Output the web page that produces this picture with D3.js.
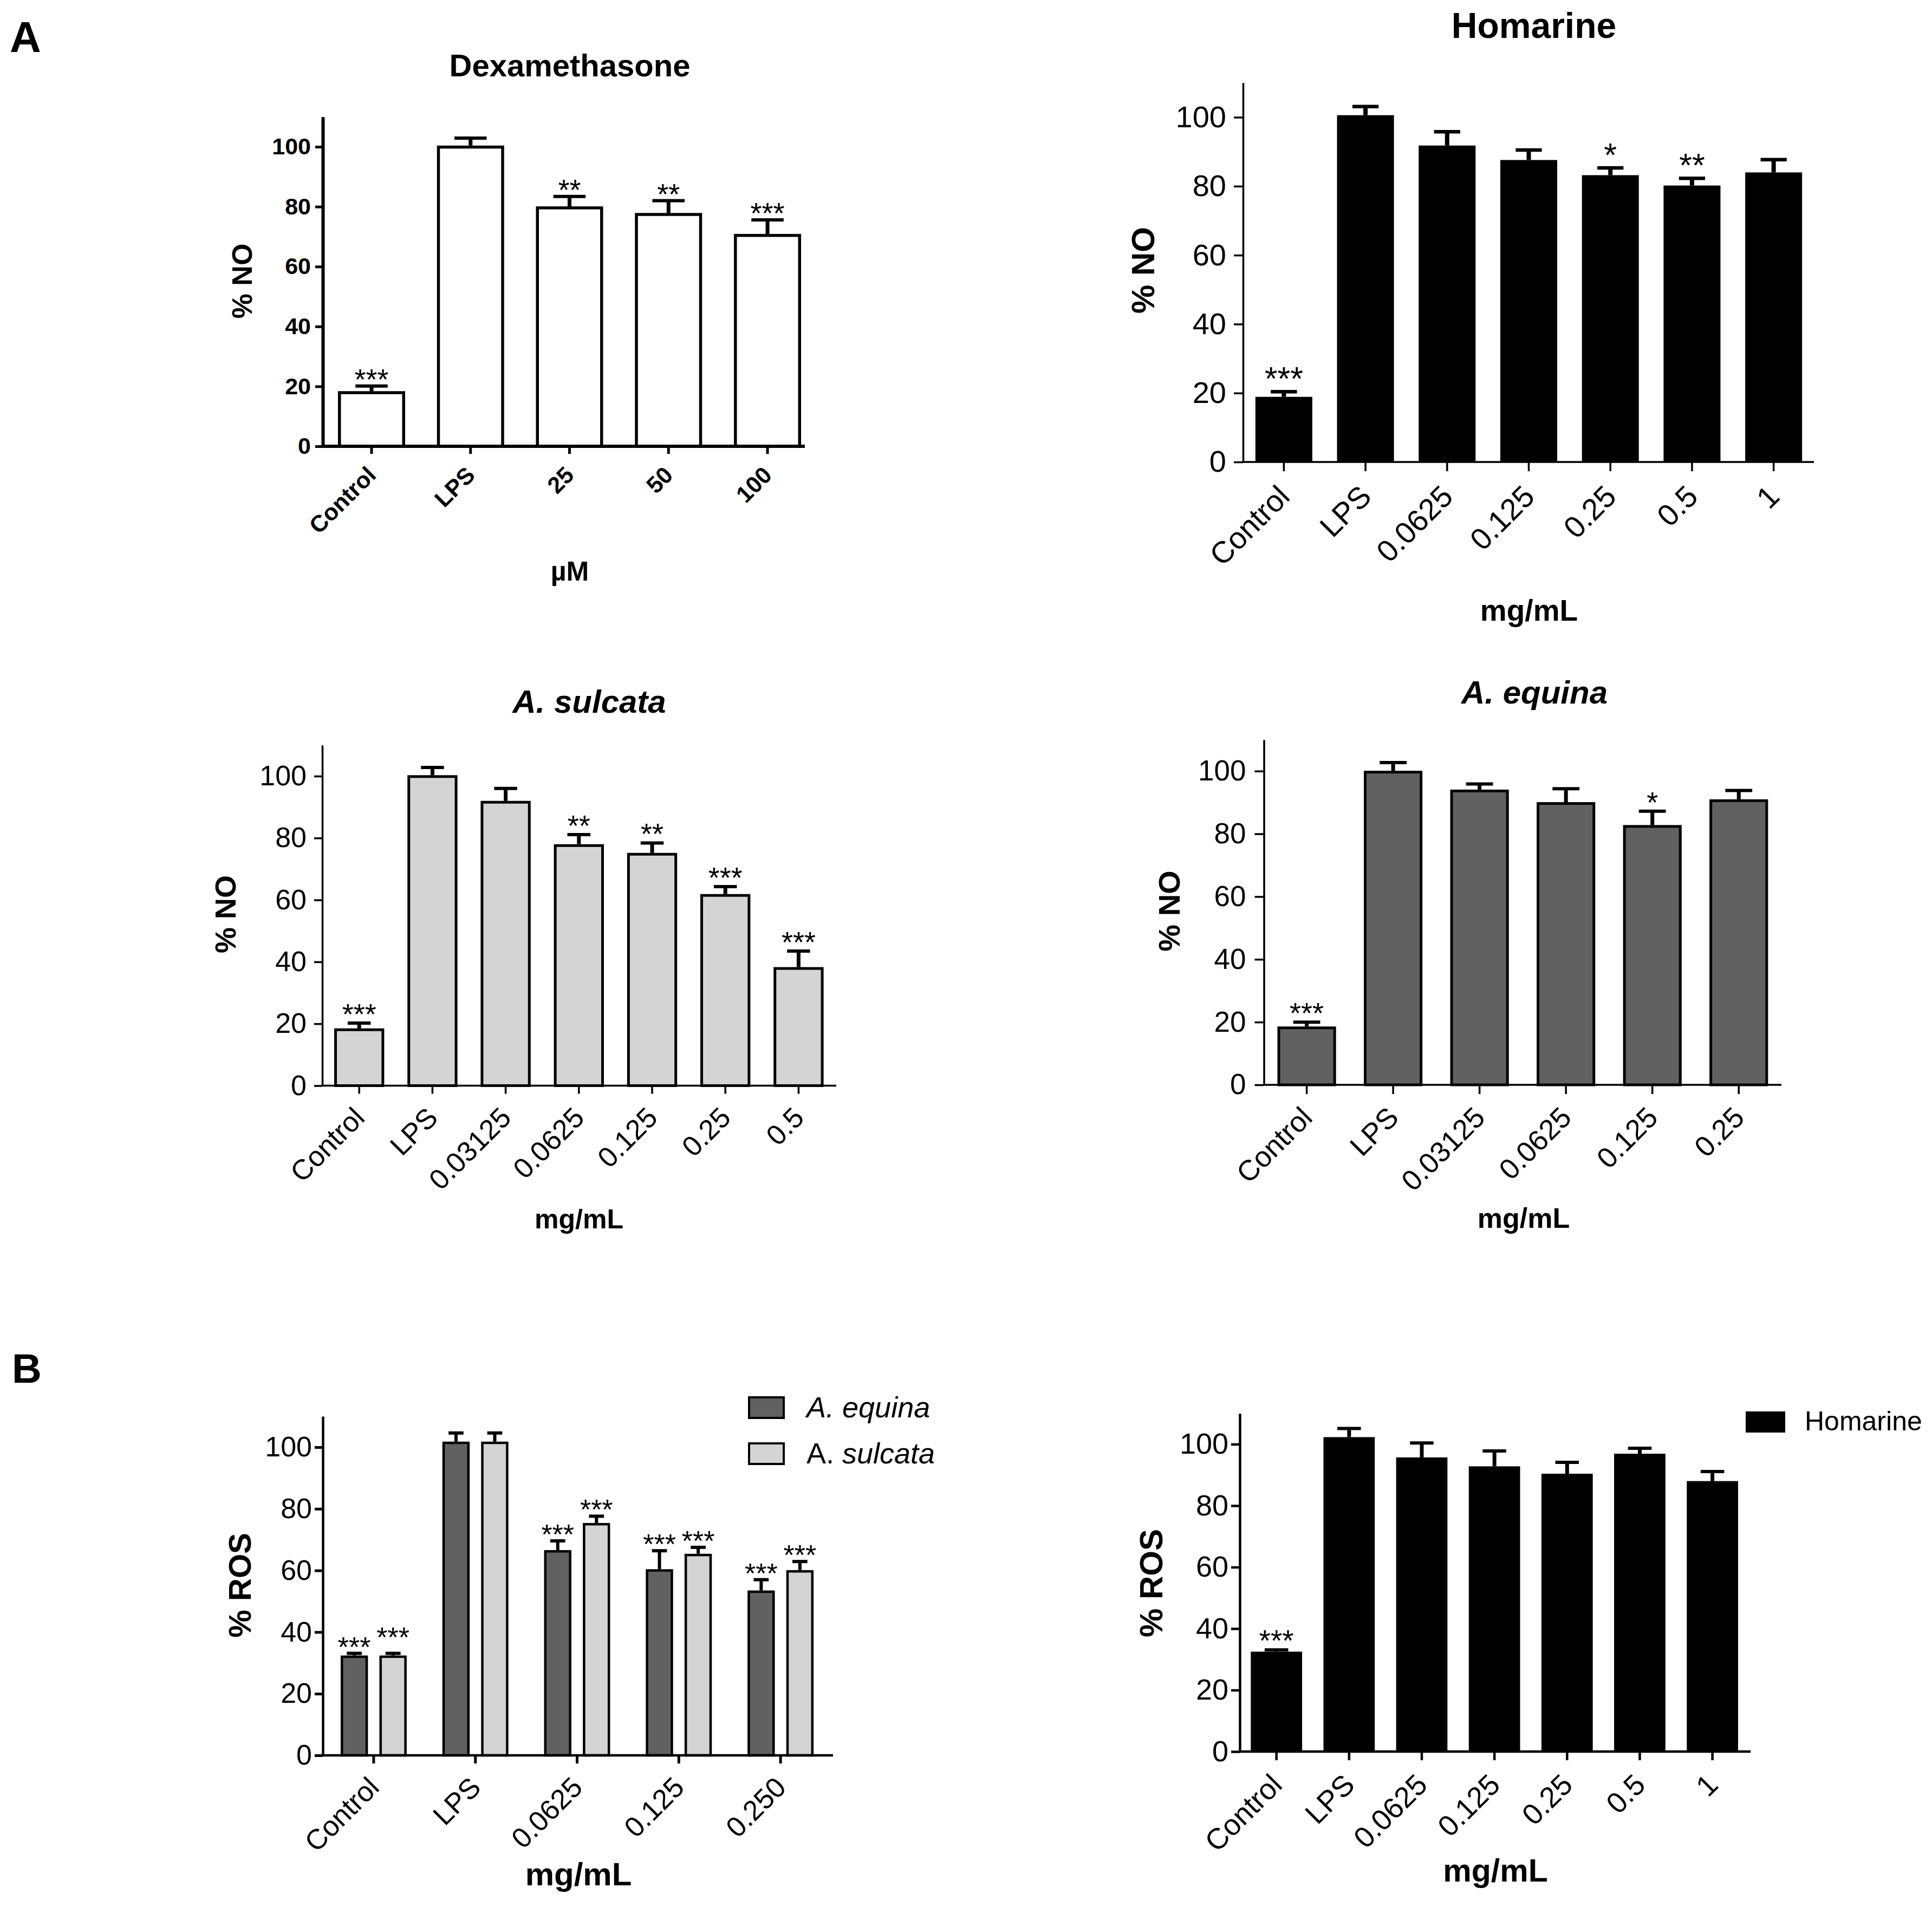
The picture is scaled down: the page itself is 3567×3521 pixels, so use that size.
<!DOCTYPE html>
<html>
<head>
<meta charset="utf-8">
<script src="https://cdn.jsdelivr.net/npm/d3@7"></script>
<style>
  body { margin: 0; background: #fff; }
</style>
</head>
<body>
<svg id="fig"></svg>
<script>
const FONT = '"Liberation Sans", Arial, Helvetica, sans-serif';

// ---- data ----
const yTicks = [0, 20, 40, 60, 80, 100];

const dexCats  = ['Control', 'LPS', '25', '50', '100'];
const dexNO    = [18.4, 100.4, 80.1, 77.9, 70.9];
const dexErr   = [1.7, 2.5, 3.3, 4.1, 4.7];
const dexStars = ['***', '', '**', '**', '***'];

const homNOCats  = ['Control', 'LPS', '0.0625', '0.125', '0.25', '0.5', '1'];
const homNO      = [18.9, 100.6, 91.8, 87.6, 83.2, 80.2, 84.0];
const homNOErr   = [1.5, 2.5, 4.0, 2.9, 2.1, 2.1, 3.7];
const homNOStars = ['***', '', '', '', '*', '**', ''];

const sulNOCats  = ['Control', 'LPS', '0.03125', '0.0625', '0.125', '0.25', '0.5'];
const sulNO      = [18.5, 100.3, 92.0, 78.0, 75.2, 61.9, 38.3];
const sulNOErr   = [1.7, 2.5, 4.0, 3.1, 3.2, 2.4, 5.2];
const sulNOStars = ['***', '', '', '**', '**', '***', '***'];

const eqNOCats  = ['Control', 'LPS', '0.03125', '0.0625', '0.125', '0.25'];
const eqNO      = [18.6, 100.1, 94.1, 90.1, 82.8, 91.0];
const eqNOErr   = [1.4, 2.6, 1.8, 4.3, 4.4, 2.8];
const eqNOStars = ['***', '', '', '', '*', ''];

const rosCats     = ['Control', 'LPS', '0.0625', '0.125', '0.250'];
const rosSeries   = ['A. equina', 'A. sulcata'];
const rosEq       = [32.4, 101.8, 66.6, 60.4, 53.5];
const rosEqErr    = [0.7, 2.8, 3.0, 6.0, 3.5];
const rosEqStars  = ['***', '', '***', '***', '***'];
const rosSul      = [32.4, 101.8, 75.4, 65.4, 60.1];
const rosSulErr   = [0.7, 2.8, 2.2, 2.1, 2.8];
const rosSulStars = ['***', '', '***', '***', '***'];

const homROSCats  = ['Control', 'LPS', '0.0625', '0.125', '0.25', '0.5', '1'];
const homROS      = [32.5, 102.3, 95.7, 92.8, 90.4, 96.9, 88.0];
const homROSErr   = [0.6, 2.8, 4.7, 5.0, 3.7, 1.8, 3.1];
const homROSStars = ['***', '', '', '', '', '', ''];

const svg = d3.select('#fig').attr('width', 3567).attr('height', 3521)
    .style('font-family', FONT);

function txt(g, str, x, y, size, opts) {
    opts = opts || {};
    return g.append('text')
        .attr('x', x).attr('y', y)
        .attr('font-size', size)
        .attr('font-weight', opts.weight || 'normal')
        .attr('font-style', opts.style || 'normal')
        .attr('text-anchor', opts.anchor || 'middle')
        .attr('fill', '#000')
        .text(str);
}

function drawAxes(g, c, x, y) {
    const ya = g.append('g').attr('transform', `translate(${c.axisX},0)`)
        .call(d3.axisLeft(y).tickValues(yTicks).tickSize(c.tickLen)
            .tickSizeOuter(0).tickPadding(c.tickPad));
    ya.select('.domain').attr('stroke-width', c.axisW);
    ya.selectAll('.tick line').attr('stroke-width', c.tickW);
    ya.selectAll('.tick text')
        .attr('font-size', c.tickFont)
        .attr('font-weight', c.tickWeight || 'normal')
        .attr('font-family', FONT);

    g.append('line')
        .attr('x1', c.axisX).attr('x2', c.axisEnd)
        .attr('y1', y(0)).attr('y2', y(0))
        .attr('stroke', '#000').attr('stroke-width', c.axisW);

    const f = c.tickFont;
    const xa = g.append('g').attr('transform', `translate(0,${y(0)})`)
        .call(d3.axisBottom(x).tickSize(c.tickLen).tickSizeOuter(0));
    xa.select('.domain').remove();
    xa.selectAll('.tick line').attr('stroke-width', c.tickW);
    xa.selectAll('.tick text')
        .attr('font-size', f)
        .attr('font-weight', c.tickWeight || 'normal')
        .attr('font-family', FONT)
        .attr('x', null).attr('y', null).attr('dy', null)
        .attr('text-anchor', 'end')
        .attr('transform', `translate(${0.25 * f},${(c.labDy || 1.2) * f}) rotate(-45)`);

    // titles and axis labels
    if (c.title) {
        txt(g, c.title, c.titleX, c.titleY, c.titleSize,
            {weight: 'bold', style: c.titleStyle});
    }
    txt(g, c.yLabel, 0, 0, c.yLabelSize, {weight: 'bold'})
        .attr('dominant-baseline', 'central')
        .attr('transform', `translate(${c.yLabelX},${c.yLabelY}) rotate(-90)`);
    txt(g, c.xLabel, c.xLabelX, c.xLabelY, c.xLabelSize, {weight: 'bold'});
}

function drawBars(g, c, x, y, cats, mean, err, stars, fill, bw, xOff, starLift) {
    const data = cats.map((d, i) => ({cat: d, m: mean[i], e: err[i], s: stars[i]}));
    const cx = d => x(d.cat) + xOff + bw / 2;
    const sw = c.barW;

    g.append('g').selectAll('rect').data(data).join('rect')
        .attr('x', d => x(d.cat) + xOff + sw / 2)
        .attr('width', bw - sw)
        .attr('y', d => y(d.m) + sw / 2)
        .attr('height', d => y(0) - y(d.m) - sw / 2)
        .attr('fill', fill)
        .attr('stroke', sw > 0 ? '#000' : 'none')
        .attr('stroke-width', sw);

    const eg = g.append('g').attr('stroke', '#000');
    eg.selectAll('line.v').data(data).join('line').attr('class', 'v')
        .attr('x1', cx).attr('x2', cx)
        .attr('y1', d => y(d.m)).attr('y2', d => y(d.m + d.e))
        .attr('stroke-width', c.errW);
    eg.selectAll('line.cap').data(data).join('line').attr('class', 'cap')
        .attr('x1', d => cx(d) - bw * c.capFrac / 2)
        .attr('x2', d => cx(d) + bw * c.capFrac / 2)
        .attr('y1', d => y(d.m + d.e)).attr('y2', d => y(d.m + d.e))
        .attr('stroke-width', c.capH);

    g.append('g').selectAll('text').data(data.filter(d => d.s)).join('text')
        .attr('x', cx)
        .attr('y', d => y(d.m + d.e) + c.starDy - (starLift ? starLift(d) : 0))
        .attr('text-anchor', 'middle')
        .attr('font-size', c.starFont)
        .attr('fill', '#000')
        .text(d => d.s);
}

function makeScales(c, cats) {
    const x = d3.scaleBand().domain(cats).range(c.band)
        .paddingInner(c.padIn).paddingOuter(c.padIn / 2);
    const unit = (c.y0 - c.y100) / 100;
    const y = d3.scaleLinear().domain([0, 110]).range([c.y0, c.y0 - 110 * unit]);
    return {x, y};
}

function simplePanel(c, cats, mean, err, stars) {
    const g = svg.append('g');
    const {x, y} = makeScales(c, cats);
    drawBars(g, c, x, y, cats, mean, err, stars, c.fill, x.bandwidth(), 0);
    drawAxes(g, c, x, y);
    return {g, x, y};
}

// ---- panel A ----
txt(svg, 'A', 18, 96, 80, {weight: 'bold', anchor: 'start'});

simplePanel({
    axisX: 596, axisEnd: 1486, y0: 824, y100: 271, band: [594.6, 1508.4], padIn: 0.3215,
    fill: '#fff', barW: 5.5, axisW: 6, tickW: 5, tickLen: 14, tickPad: 8,
    tickFont: 43, tickWeight: 'bold', labDy: 1.3,
    title: 'Dexamethasone', titleX: 1052, titleY: 141, titleSize: 58,
    yLabel: '% NO', yLabelX: 447, yLabelY: 519, yLabelSize: 52,
    xLabel: 'µM', xLabelX: 1052, xLabelY: 1072, xLabelSize: 50,
    starFont: 54, starDy: 6, capFrac: 0.48, errW: 7, capH: 6
}, dexCats, dexNO, dexErr, dexStars);

simplePanel({
    axisX: 2295, axisEnd: 3349, y0: 853, y100: 216.5, band: [2295, 3350], padIn: 0.303,
    fill: '#000', barW: 0, axisW: 3.5, tickW: 3.5, tickLen: 17, tickPad: 14,
    tickFont: 56,
    title: 'Homarine', titleX: 2832, titleY: 70, titleSize: 66,
    yLabel: '% NO', yLabelX: 2110, yLabelY: 499, yLabelSize: 60,
    xLabel: 'mg/mL', xLabelX: 2823, xLabelY: 1146, xLabelSize: 55,
    starFont: 61, starDy: -3, capFrac: 0.46, errW: 8, capH: 6.5
}, homNOCats, homNO, homNOErr, homNOStars);

simplePanel({
    axisX: 595, axisEnd: 1544, y0: 2004.5, y100: 1433, band: [595.6, 1542], padIn: 0.317,
    fill: '#d4d4d4', barW: 5, axisW: 3.5, tickW: 3.5, tickLen: 15, tickPad: 14,
    tickFont: 52,
    title: 'A. sulcata', titleStyle: 'italic', titleX: 1088, titleY: 1316, titleSize: 60,
    yLabel: '% NO', yLabelX: 416, yLabelY: 1688, yLabelSize: 54,
    xLabel: 'mg/mL', xLabelX: 1069, xLabelY: 2268, xLabelSize: 50,
    starFont: 54, starDy: 2, capFrac: 0.46, errW: 7, capH: 6
}, sulNOCats, sulNO, sulNOErr, sulNOStars);

simplePanel({
    axisX: 2333.5, axisEnd: 3289, y0: 2003, y100: 1423.7, band: [2332.8, 3290], padIn: 0.322,
    fill: '#616161', barW: 5, axisW: 3.5, tickW: 3.5, tickLen: 17, tickPad: 16,
    tickFont: 53,
    title: 'A. equina', titleStyle: 'italic', titleX: 2833, titleY: 1299, titleSize: 60,
    yLabel: '% NO', yLabelX: 2158, yLabelY: 1682, yLabelSize: 56,
    xLabel: 'mg/mL', xLabelX: 2813, xLabelY: 2267, xLabelSize: 52,
    starFont: 54, starDy: 2, capFrac: 0.46, errW: 7, capH: 6
}, eqNOCats, eqNO, eqNOErr, eqNOStars);

// ---- panel B ----
txt(svg, 'B', 22, 2553, 76, {weight: 'bold', anchor: 'start'});

// grouped ROS chart
(function () {
    const c = {
        axisX: 596, axisEnd: 1538, y0: 3241, y100: 2672, band: [596, 1535], padIn: 0.351,
        barW: 4.5, axisW: 4.5, tickW: 5, tickLen: 15, tickPad: 5, tickFont: 52,
        yLabel: '% ROS', yLabelX: 442, yLabelY: 2927, yLabelSize: 58,
        xLabel: 'mg/mL', xLabelX: 1068, xLabelY: 3481, xLabelSize: 60,
        starFont: 52, starDy: 6, capFrac: 0.55, errW: 6, capH: 6
    };
    const g = svg.append('g');
    const {x, y} = makeScales(c, rosCats);
    const xi = d3.scaleBand().domain(rosSeries).range([0, x.bandwidth()]).paddingInner(0.296);
    const fills = ['#616161', '#d4d4d4'];
    // where both caps of a pair sit at the same level, the second label is set higher
    const pairLift = d => {
        const i = rosCats.indexOf(d.cat);
        return Math.abs((rosEq[i] + rosEqErr[i]) - (rosSul[i] + rosSulErr[i])) < 1 ? 18 : 0;
    };
    drawBars(g, c, x, y, rosCats, rosEq, rosEqErr, rosEqStars, fills[0], xi.bandwidth(), xi(rosSeries[0]));
    drawBars(g, c, x, y, rosCats, rosSul, rosSulErr, rosSulStars, fills[1], xi.bandwidth(), xi(rosSeries[1]), pairLift);
    drawAxes(g, c, x, y);

    // legend
    const lg = g.append('g');
    rosSeries.forEach((s, i) => {
        const ly = 2578 + i * 85;
        lg.append('rect').attr('x', 1383).attr('y', ly + 2).attr('width', 64).attr('height', 38)
            .attr('fill', fills[i]).attr('stroke', '#000').attr('stroke-width', 4);
        const t = lg.append('text').attr('x', 1489).attr('y', ly + 39)
            .attr('font-size', 54).attr('fill', '#000');
        const parts = s.split(' ');
        t.append('tspan').attr('font-style', i === 0 ? 'italic' : 'normal').text(parts[0] + ' ');
        t.append('tspan').attr('font-style', 'italic').text(parts[1]);
    });
})();

(function () {
    const p = simplePanel({
        axisX: 2289, axisEnd: 3232, y0: 3234, y100: 2666.5, band: [2289.6, 3228.7], padIn: 0.294,
        fill: '#000', barW: 0, axisW: 4.5, tickW: 4.5, tickLen: 16, tickPad: 5,
        tickFont: 54,
        yLabel: '% ROS', yLabelX: 2125, yLabelY: 2923, yLabelSize: 60,
        xLabel: 'mg/mL', xLabelX: 2761, xLabelY: 3474, xLabelSize: 59,
        starFont: 55, starDy: 2, capFrac: 0.46, errW: 7, capH: 6
    }, homROSCats, homROS, homROSErr, homROSStars);
    p.g.append('rect').attr('x', 3223).attr('y', 2606).attr('width', 73).attr('height', 39)
        .attr('fill', '#000');
    txt(p.g, 'Homarine', 3332, 2641, 50, {anchor: 'start'});
})();
</script>
</body>
</html>
